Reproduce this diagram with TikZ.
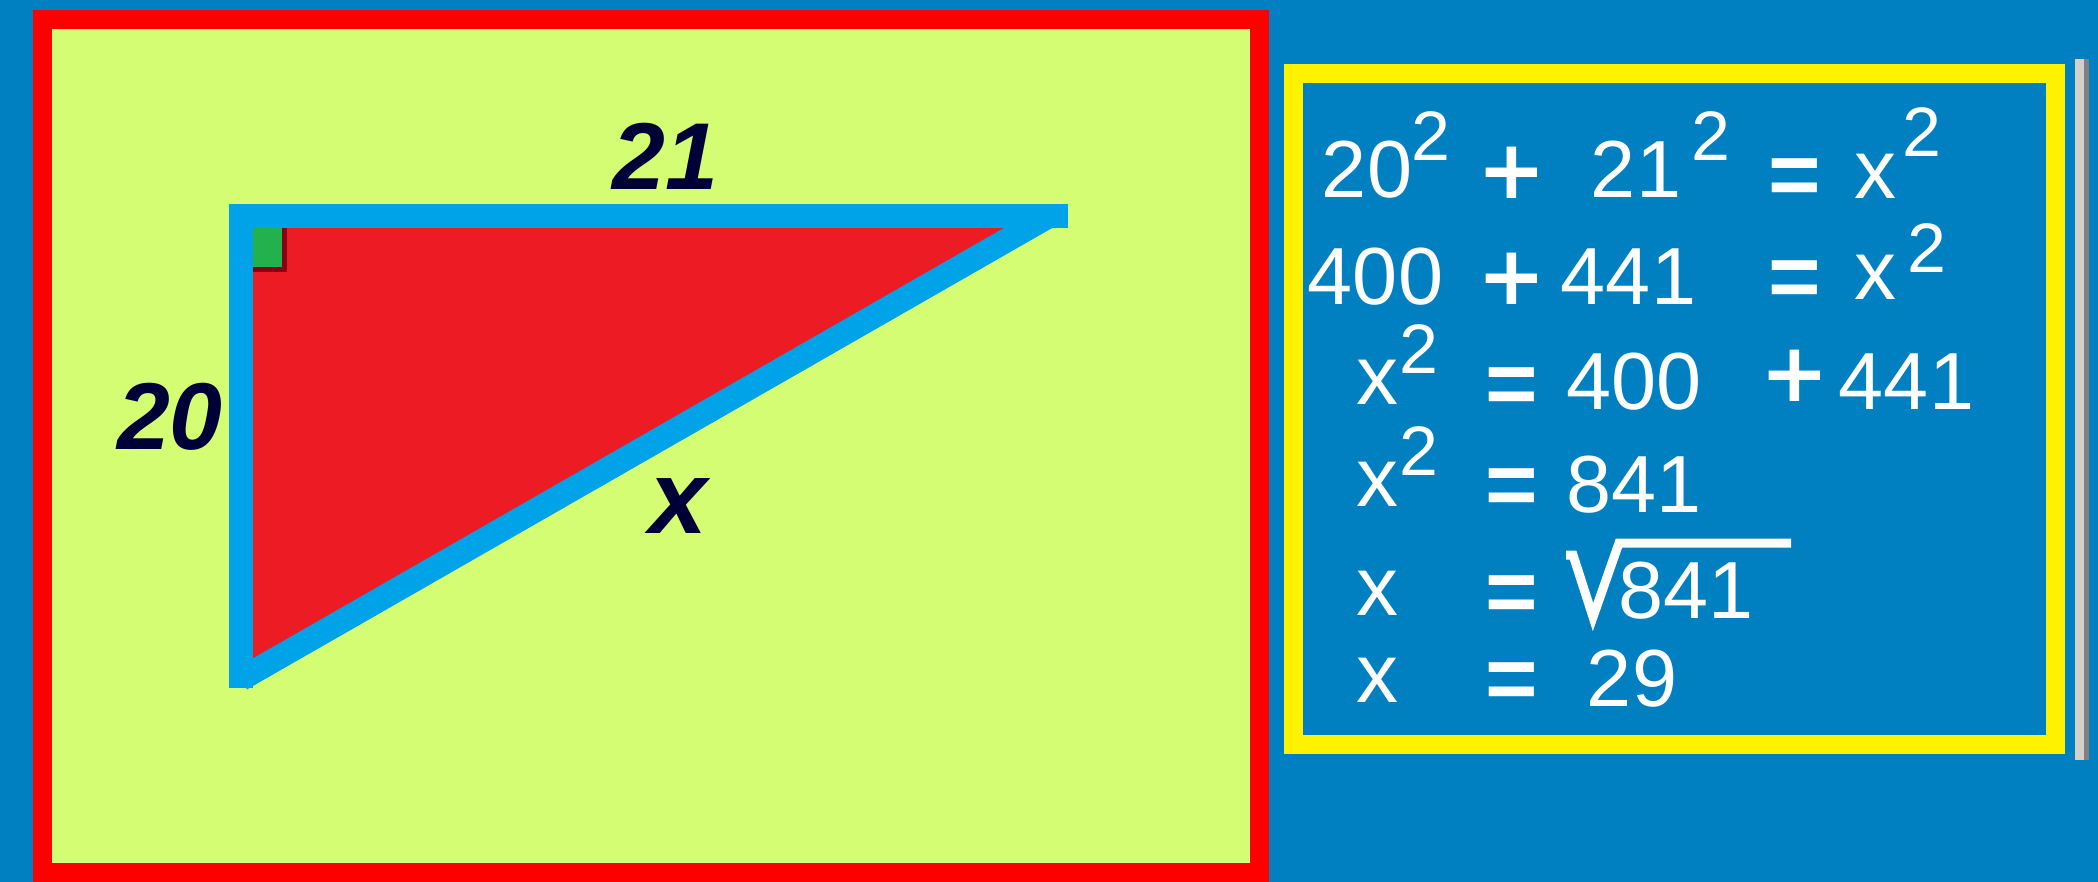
\documentclass[tikz,border=0pt]{standalone}
\usepackage{fontspec}
\setmainfont{Liberation Sans}
\newfontfamily\opfont{DejaVu Sans}
\usetikzlibrary{positioning}
\definecolor{panelblue}{RGB}{0,128,192}
\definecolor{boardgreen}{RGB}{213,253,115}
\definecolor{edgeblue}{RGB}{0,162,232}
\definecolor{trired}{RGB}{237,28,36}
\definecolor{markgreen}{RGB}{34,177,76}
\definecolor{markshade}{RGB}{136,0,21}
\definecolor{labelnavy}{RGB}{0,0,56}
\definecolor{barlight}{RGB}{212,208,200}
\definecolor{bardark}{RGB}{128,128,128}

\begin{document}
\begin{tikzpicture}[
    x=0.5pt, y=-0.5pt,
    leg/.style={draw=edgeblue, line width=12pt},
    lbl/.style={text=labelnavy, inner sep=0pt, font=\fontsize{47.5}{50}\selectfont\bfseries\itshape},
    num/.style={text=white, inner sep=0pt, font=\fontsize{40.5}{44}\selectfont},
    sup/.style={text=white, inner sep=0pt, font=\fontsize{35}{38}\selectfont},
    var/.style={text=white, inner sep=0pt, font=\fontsize{42}{45}\selectfont},
    plus/.style={text=white, inner sep=0pt, font=\opfont\fontsize{41}{44}\selectfont\bfseries},
    equal/.style={text=white, inner sep=0pt, font=\fontsize{45}{48}\selectfont\bfseries}
]
\useasboundingbox (0,0) rectangle (2098,882);
\fill[panelblue] (0,0) rectangle (2098,882);

% board with the triangle
\draw[red, line width=9.5pt, fill=boardgreen] (42.5,20) rectangle (1259.5,872);
\coordinate (A) at (241,216);
\coordinate (B) at (1049,216);
\coordinate (C) at (241,679);
\coordinate (Bend) at (1068,216);
\coordinate (Cend) at (241,688);
\fill[trired] (A) -- (B) -- (C) -- cycle;
\draw[leg, line join=miter] (Bend) -- (A) -- (Cend);
\draw[leg] (B) -- (C);
\fill[markshade] (253,228) rectangle (287,272);
\fill[markgreen] (253,228) rectangle (282,267);

\node[lbl] (side21) at (665.5,156) {21};
\node[lbl] (side20) at (170,416.5) {20};
\node[lbl, font=\fontsize{52}{54}\selectfont\bfseries\itshape] (sidex) at (678,506) {x};

% working panel
\draw[yellow, line width=9.5pt] (1293.5,73.5) rectangle (2055.5,744.5);
\fill[barlight] (2075,59) rectangle (2084,760);
\fill[bardark] (2084,59) rectangle (2089,760);

% row 1
\node[num] (r1a) at (1367,169.5) {20};
\node[sup] (r1b) at (1431,136) {2};
\node[plus] (r1c) at (1511.5,172.5) {+};
\node[num] (r1d) at (1636,169.5) {21};
\node[sup] (r1e) at (1710.5,136) {2};
\node[equal] (r1f) at (1794.5,182) {=};
\node[var] (r1g) at (1875.5,176) {x};
\node[sup] (r1h) at (1921.5,132) {2};
% row 2
\node[num] (r2a) at (1375.5,277) {400};
\node[plus] (r2b) at (1511.5,279) {+};
\node[num] (r2c) at (1628.5,277) {441};
\node[equal] (r2d) at (1794.5,284) {=};
\node[var] (r2e) at (1875.5,277.5) {x};
\node[sup] (r2f) at (1926.5,248.5) {2};
% row 3
\node[var] (r3a) at (1377,382.5) {x};
\node[sup] (r3b) at (1418.5,349.5) {2};
\node[equal] (r3c) at (1511.5,391) {=};
\node[num] (r3d) at (1634,382) {400};
\node[plus] (r3e) at (1794.5,375.5) {+};
\node[num] (r3f) at (1906.5,382) {441};
% row 4
\node[var] (r4a) at (1377,484.5) {x};
\node[sup] (r4b) at (1418.5,451.5) {2};
\node[equal] (r4c) at (1511.5,492) {=};
\node[num] (r4d) at (1634,484.5) {841};
% row 5
\node[var] (r5a) at (1377,593) {x};
\node[equal] (r5b) at (1511.5,599) {=};
\node[num] (r5c) at (1686,590.5) {841};
\draw[white, line width=4.5pt, line join=miter] (1566,555) -- (1573,555) -- (1593,617) -- (1619,543) -- (1791,543);
% row 6
\node[var] (r6a) at (1377,680.5) {x};
\node[equal] (r6b) at (1511.5,686) {=};
\node[num] (r6c) at (1632,678.5) {29};
\end{tikzpicture}
\end{document}
